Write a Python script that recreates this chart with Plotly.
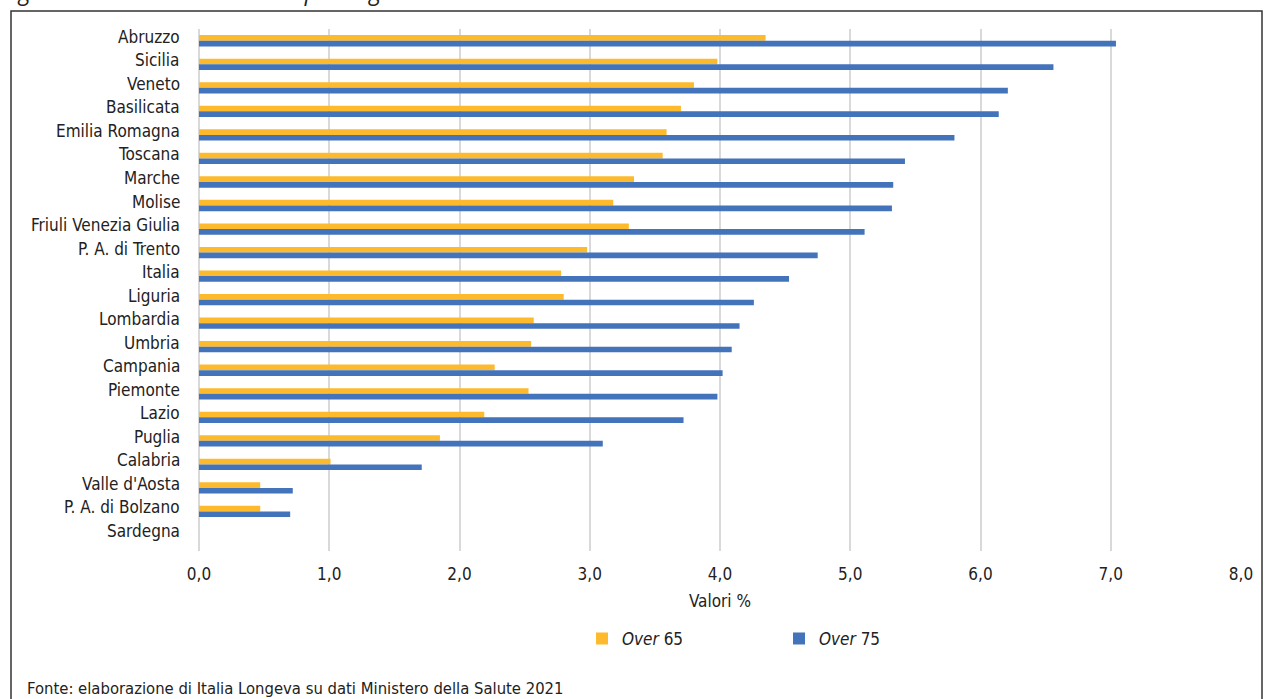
import plotly.graph_objects as go

regions = ["Abruzzo", "Sicilia", "Veneto", "Basilicata", "Emilia Romagna", "Toscana",
           "Marche", "Molise", "Friuli Venezia Giulia", "P. A. di Trento", "Italia",
           "Liguria", "Lombardia", "Umbria", "Campania", "Piemonte", "Lazio", "Puglia",
           "Calabria", "Valle d'Aosta", "P. A. di Bolzano", "Sardegna"]
over65 = [4.35, 3.98, 3.80, 3.70, 3.59, 3.56, 3.34, 3.18, 3.30, 2.98, 2.78,
          2.80, 2.57, 2.55, 2.27, 2.53, 2.19, 1.85, 1.01, 0.47, 0.47, 0]
over75 = [7.04, 6.56, 6.21, 6.14, 5.80, 5.42, 5.33, 5.32, 5.11, 4.75, 4.53,
          4.26, 4.15, 4.09, 4.02, 3.98, 3.72, 3.10, 1.71, 0.72, 0.70, 0]
x_ticks = [0, 1, 2, 3, 4, 5, 6, 7, 8]

FONT = "DejaVu Sans Condensed, Liberation Sans Narrow, sans-serif"
TXT = "#222222"

W, H = 1264, 699
L, R, T, B = 199, 1241, 28.5, 551
def px(x):
    return (x - L) / (R - L)
def py(y):
    return (B - y) / (B - T)

fig = go.Figure()
fig.add_trace(go.Bar(y=regions, x=over65, orientation="h", name="<i>Over</i> 65",
                     marker=dict(color="#FDBA2C", line=dict(width=0))))
fig.add_trace(go.Bar(y=regions, x=over75, orientation="h", name="<i>Over</i> 75",
                     marker=dict(color="#4373BA", line=dict(width=0))))

fig.update_layout(
    width=W, height=H,
    margin=dict(l=L, r=W - R, t=T, b=H - B, pad=0),
    paper_bgcolor="white", plot_bgcolor="white",
    barmode="group", bargap=0.52, bargroupgap=0,
    separators=",.",
    font=dict(family=FONT, size=17, color=TXT),
    showlegend=True,
    legend=dict(orientation="h", x=px(582), y=py(621), xanchor="left", yanchor="top",
                entrywidth=152, entrywidthmode="pixels", itemwidth=30,
                font=dict(family=FONT, size=17, color=TXT),
                traceorder="normal", itemclick=False),
    xaxis=dict(range=[0, 8], tickvals=x_ticks, tickformat=".1f",
               showgrid=True, gridcolor="#D9D9D9", gridwidth=1.5,
               zeroline=True, zerolinecolor="#D9D9D9", zerolinewidth=1.5,
               showline=False, ticks="", ticklabelstandoff=11,
               tickfont=dict(family=FONT, size=17, color=TXT),
               title=dict(text="Valori %", standoff=12,
                          font=dict(family=FONT, size=17, color=TXT))),
    yaxis=dict(autorange="reversed", showgrid=False, showline=False, ticks="",
               showticklabels=False),
)

# category labels, slightly above the bar pair as in the reference
for r in regions:
    fig.add_annotation(xref="paper", yref="y", x=0, y=r, xanchor="right", yanchor="middle",
                       xshift=-17, yshift=4, text=r, showarrow=False,
                       font=dict(family=FONT, size=17, color=TXT))

# outer frame
fig.add_shape(type="rect", xref="paper", yref="paper",
              x0=px(11), x1=px(1262), y0=py(710), y1=py(10.5),
              line=dict(color="#333333", width=1.5), fillcolor="rgba(0,0,0,0)", layer="below")

# clipped title at the top (as in the reference)
fig.add_annotation(xref="paper", yref="paper", x=px(0), y=py(8.5), xanchor="left", yanchor="bottom",
                   text="<i>Figura: Anziani assistiti in ADI per Regione. Anno 2020</i>",
                   showarrow=False, font=dict(family="Open Sans, sans-serif", size=23, color=TXT))

# source note
fig.add_annotation(xref="paper", yref="paper", x=px(25), y=py(689), xanchor="left", yanchor="middle",
                   text="Fonte: elaborazione di Italia Longeva su dati Ministero della Salute 2021",
                   showarrow=False, font=dict(family=FONT, size=16.5, color=TXT))

fig.write_html("out.html", config={"displayModeBar": False},
               post_script="document.body.style.margin='0';document.body.style.overflow='hidden';")
